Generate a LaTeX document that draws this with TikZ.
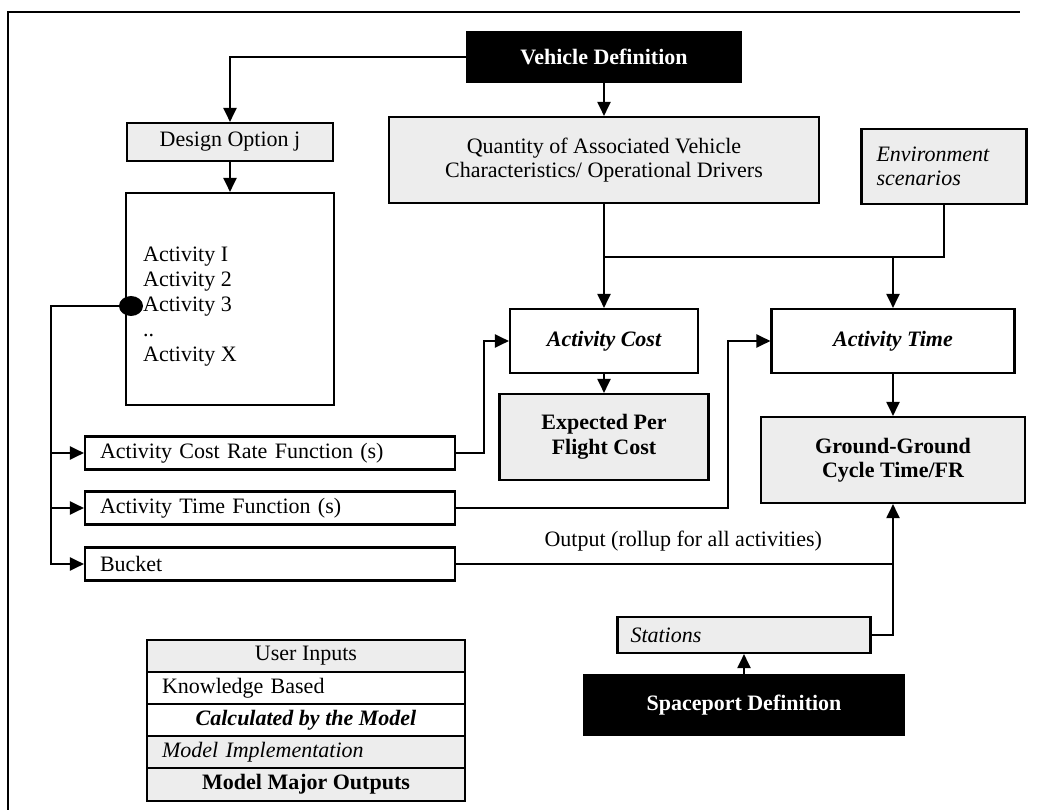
\documentclass[tikz,border=0pt]{standalone}
\usepackage{fontspec}
\setmainfont{Liberation Serif}
\usetikzlibrary{arrows.meta,shapes.geometric}
\begin{document}
\begin{tikzpicture}[x=1pt,y=-1pt,
  txt/.style={font=\fontsize{22}{24.5}\selectfont, inner sep=0pt},
  box/.style={txt, draw, line width=2.1pt, rectangle, align=center},
  shaded/.style={fill=black!7},
  dark/.style={box, fill=black, text=white, font=\fontsize{22}{24.5}\selectfont\bfseries},
  conn/.style={line width=2pt},
  arr/.style={conn, -{Triangle[length=14pt,width=13pt]}}
]
\useasboundingbox (0,0) rectangle (1047,810);
% frame
\draw[line width=1.6pt] (8,810) -- (8,12) -- (1020,12);

% nodes
\node[dark, minimum width=274pt, minimum height=50pt] (vehicle) at (604,57) {Vehicle Definition};
\node[box, shaded, minimum width=206pt, minimum height=38pt] (design) at (230,142) {Design Option j};
\node[box, minimum width=208pt, minimum height=212pt] (acts) at (230,299) {};
\node[txt, anchor=west, align=left, font=\fontsize{22}{25}\selectfont] (actlist) at (143,307) {Activity I\\Activity 2\\Activity 3\\..\\Activity X};

\node[box, minimum width=370pt, minimum height=33pt, text width=340pt, align=left] (costrate) at (270,453) {Activity Cost Rate Function (s)};
\node[box, minimum width=370pt, minimum height=33pt, text width=340pt, align=left] (timefn) at (270,508) {Activity Time Function (s)};
\node[box, minimum width=370pt, minimum height=33pt, text width=340pt, align=left] (bucket) at (270,564) {Bucket};

\node[box, shaded, minimum width=430pt, minimum height=86pt] (quantity) at (604,160) {Quantity of Associated Vehicle\\Characteristics/ Operational Drivers};
\node[box, shaded, minimum width=165pt, minimum height=75pt, text width=135pt, align=left, font=\fontsize{22}{24.5}\selectfont\itshape] (env) at (944,166.5) {Environment\\scenarios};
\node[box, minimum width=188pt, minimum height=64pt, font=\fontsize{22}{24.5}\selectfont\bfseries\itshape] (actcost) at (604,341) {Activity Cost};
\node[box, shaded, minimum width=209pt, minimum height=86pt, font=\fontsize{22}{24.5}\selectfont\bfseries] (expected) at (604,437) {Expected Per\\Flight Cost};
\node[box, minimum width=243pt, minimum height=64pt, font=\fontsize{22}{24.5}\selectfont\bfseries\itshape] (acttime) at (893,341) {Activity Time};
\node[box, shaded, minimum width=264pt, minimum height=86pt, font=\fontsize{22}{24.5}\selectfont\bfseries] (ground) at (893,460) {Ground-Ground\\Cycle Time/FR};
\node[box, shaded, minimum width=253pt, minimum height=36pt, text width=227pt, align=left, font=\fontsize{22}{24.5}\selectfont\itshape] (stations) at (744,635) {Stations};
\node[dark, minimum width=320pt, minimum height=60pt] (spaceport) at (744,705) {Spaceport Definition};

% legend
\node[box, shaded, minimum width=318pt, minimum height=32pt] (lg1) at (306,656) {User Inputs};
\node[box, minimum width=318pt, minimum height=32pt, text width=288pt, align=left] (lg2) at (306,688) {Knowledge Based};
\node[box, minimum width=318pt, minimum height=32pt, font=\fontsize{22}{24.5}\selectfont\bfseries\itshape] (lg3) at (306,720) {Calculated by the Model};
\node[box, shaded, minimum width=318pt, minimum height=32pt, text width=288pt, align=left, font=\fontsize{22}{24.5}\selectfont\itshape] (lg4) at (306,752) {Model Implementation};
\node[box, shaded, minimum width=318pt, minimum height=33pt, font=\fontsize{22}{24.5}\selectfont\bfseries] (lg5) at (306,784.5) {Model Major Outputs};

% connectors
\draw[arr] (vehicle.west) -| (design.north);
\draw[arr] (vehicle.south) -- (quantity.north);
\draw[arr] (design.south) -- (acts.north);
\draw[arr] (quantity.south) -- (actcost.north);
\coordinate (j1) at (604,257);
\coordinate (j2) at (893,257);
\draw[conn] (env.south) |- (j1);
\draw[arr] (j2) -- (acttime.north);
\draw[arr] (actcost.south) -- (expected.north);
\draw[arr] (acttime.south) -- (ground.north);

\coordinate (bustop) at (51,306);
\coordinate (dotc) at (131,306);
\draw[arr] (dotc) -- (bustop) |- (bucket.west);
\draw[arr] (bustop |- costrate.west) -- (costrate.west);
\draw[arr] (bustop |- timefn.west) -- (timefn.west);
\node[ellipse, fill=black, minimum width=24pt, minimum height=20pt, inner sep=0pt] (dot) at (dotc) {};

\draw[arr] (costrate.east) -- ++(28,0) |- (actcost.west);
\draw[arr] (timefn.east) -- (728,508) |- (acttime.west);
\draw[conn] (bucket.east) -- node[txt, above=12pt, pos=0.52] (outlbl) {Output (rollup for all activities)} (ground.south |- bucket.east);
\draw[arr] (stations.east) -| (ground.south);
\draw[arr] (spaceport.north) -- (stations.south);
\end{tikzpicture}
\end{document}
